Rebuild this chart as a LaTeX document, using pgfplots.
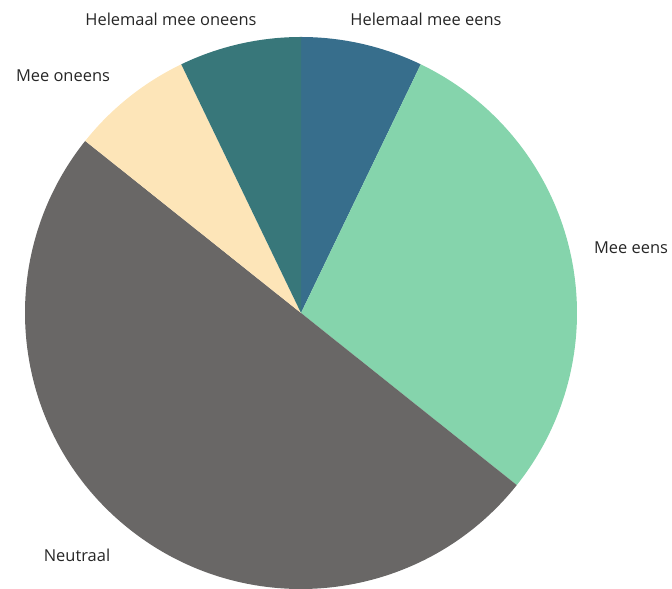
\documentclass[border=0pt]{standalone}
\usepackage{pgfplots}
\pgfplotsset{compat=1.18}
\usepackage{pgfplotstable}
\usepackage{fontspec}
\setmainfont{Open Sans}
\definecolor{hmeens}{HTML}{376E8C}
\definecolor{meeens}{HTML}{85D4AC}
\definecolor{neutraal}{HTML}{696766}
\definecolor{meeoneens}{HTML}{FDE5B8}
\definecolor{hmoneens}{HTML}{38777A}

% answers, clockwise from the top
\pgfplotstableread{
label   value  col        lx   ly
{Helemaal mee eens}    1  hmeens     426  570
{Mee eens}             4  meeens     631  341
{Neutraal}             7  neutraal    77   34
{Mee oneens}           1  meeoneens   63  513
{Helemaal mee oneens}  1  hmoneens   171  570
}\answers

\begin{document}
\begin{tikzpicture}
\useasboundingbox (0,0) rectangle (672bp,589bp);
\begin{axis}[
    anchor=south west, at={(0,0)},
    scale only axis, width=672bp, height=589bp,
    xmin=0, xmax=672, ymin=0, ymax=589,
    hide axis, clip=false,
  ]
  \def\cx{301}\def\cy{276}\def\r{276}
  \def\total{14}
  \def\acc{0}
  \pgfplotsinvokeforeach{0,...,4}{
    \pgfplotstablegetelem{#1}{value}\of\answers \let\v\pgfplotsretval
    \pgfplotstablegetelem{#1}{col}\of\answers \let\c\pgfplotsretval
    \pgfplotstablegetelem{#1}{label}\of\answers \let\l\pgfplotsretval
    \pgfplotstablegetelem{#1}{lx}\of\answers \let\lx\pgfplotsretval
    \pgfplotstablegetelem{#1}{ly}\of\answers \let\ly\pgfplotsretval
    \pgfmathsetmacro\sa{90-360*\acc/\total}
    \pgfmathsetmacro\ea{90-360*(\acc+\v)/\total}
    \pgfmathsetmacro\px{\cx+\r*cos(\sa)}
    \pgfmathsetmacro\py{\cy+\r*sin(\sa)}
    \pgfmathsetmacro\acc{\acc+\v}
    \xdef\acc{\acc}
    \edef\temp{\noexpand\fill[\c] (axis cs:\cx,\cy) -- (axis cs:\px,\py)
      arc[start angle=\sa, end angle=\ea, radius=\r] -- cycle;
      \noexpand\node[font=\noexpand\fontsize{16.5}{19}\noexpand\selectfont, text=black!85]
      at (axis cs:\lx,\ly) {\l};}
    \temp
  }
\end{axis}
\end{tikzpicture}
\end{document}
